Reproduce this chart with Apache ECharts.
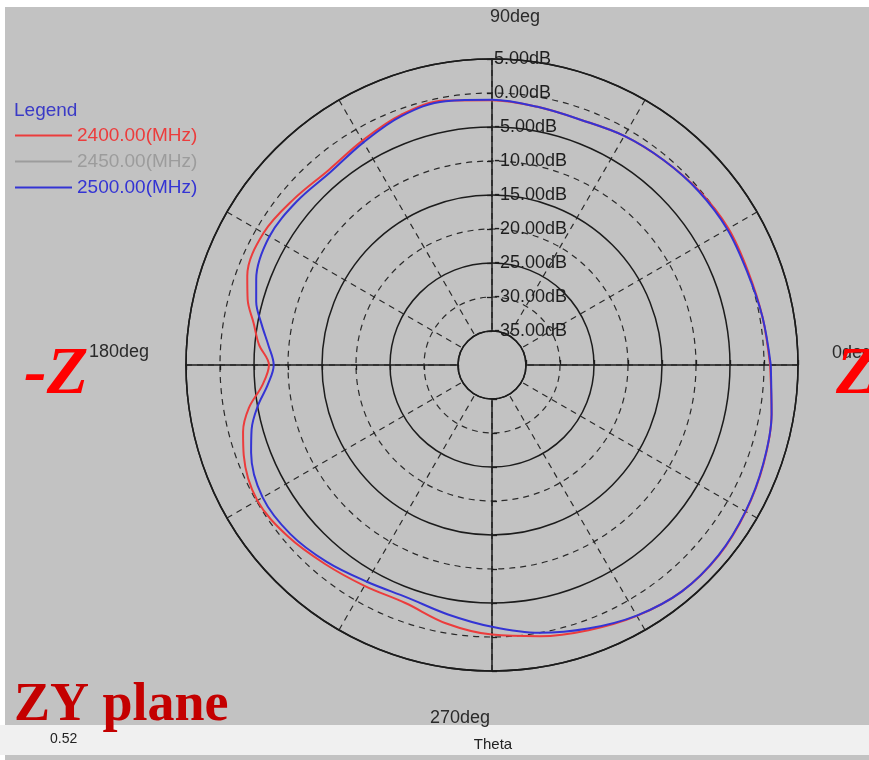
<!DOCTYPE html>
<html>
<head>
<meta charset="utf-8">
<script src="https://cdn.jsdelivr.net/npm/echarts@6/dist/echarts.min.js"></script>
<style>
  html, body { margin: 0; padding: 0; background: #ffffff; }
  #chart { width: 869px; height: 760px; }
</style>
</head>
<body>
<div id="chart"></div>
<script>
// Radiation pattern in the ZY plane, gain in dB versus theta (deg, counter-clockwise from +Z)
const thetaDeg = [0, 10, 20, 30, 40, 50, 60, 70, 80, 90, 100, 110, 120, 130, 140, 150, 160, 165, 170, 175,
                  180, 185, 190, 195, 200, 210, 220, 230, 240, 250, 260, 270, 280, 290, 300, 310, 320, 330, 340, 350, 360];

const gain2400 = [0.9, 0.4, 0.1, 0.15, -0.2, -0.7, -1.1, -1.65, -1.45, -1.05, -0.5, -0.85, -1.9, -2.6, -2.0, -1.2, -1.7, -2.8, -4.4, -5.6,
                  -7.2, -6.1, -3.7, -2.1, -1.15, -0.15, -0.8, -1.8, -2.5, -2.75, -1.4, -0.35, 0.5, 1.5, 2.6, 3.45, 3.55, 3.1, 2.5, 1.75, 0.9];

// 2450 MHz trace is listed in the legend but has no visible samples
const gain2450 = [];

const gain2500 = [1.0, 0.4, -0.05, -0.05, -0.3, -0.7, -1.1, -1.65, -1.45, -1.0, -0.6, -1.05, -2.2, -3.0, -2.55, -2.2, -3.1, -4.1, -5.6, -7.0,
                  -7.9, -6.9, -5.0, -3.4, -2.3, -1.05, -1.3, -2.2, -3.2, -3.6, -2.75, -1.5, 0.0, 1.25, 2.55, 3.45, 3.5, 3.05, 2.45, 1.75, 1.0];

const seriesNames = ['2400.00(MHz)', '2450.00(MHz)', '2500.00(MHz)'];
const seriesColors = ['#ec3c3c', '#9c9c9c', '#3434d4'];
const angleLabels = ['0deg', '90deg', '180deg', '270deg'];
const dbMin = -35, dbMax = 5, dbStep = 5;

// layout
const CX = 492, CY = 365, R_IN = 34, R_OUT = 306;
const pxPerDb = (R_OUT - R_IN) / (dbMax - dbMin);
const gridColor = '#1c1c1c';
const labelFont = 'Liberation Sans, Arial, sans-serif';
const serifFont = 'Liberation Serif, Times New Roman, serif';

const toPolar = (gains) => gains.map((g, i) => [g, thetaDeg[i]]);

const polars = [];
const angleAxes = [];
const radiusAxes = [];

function hiddenAngle(idx, start) {
  return {
    polarIndex: idx, type: 'value', min: 0, max: 360, startAngle: start, clockwise: false,
    axisLine: { show: false }, axisTick: { show: false }, axisLabel: { show: false }, splitLine: { show: false }
  };
}

// 0: data polar with dashed spokes every 30 deg and solid rings every 10 dB
polars.push({ center: [CX, CY], radius: [R_IN, R_OUT] });
angleAxes.push({
  polarIndex: 0, type: 'value', min: 0, max: 360, interval: 30, startAngle: 0, clockwise: false,
  axisLine: { show: true, lineStyle: { color: gridColor, width: 1.5 } },
  axisTick: { show: false }, axisLabel: { show: false },
  splitLine: { show: true, lineStyle: { color: '#2a2a2a', width: 1.2, type: [6, 5] } }
});
radiusAxes.push({
  polarIndex: 0, type: 'value', min: dbMin, max: dbMax, interval: 10,
  axisLine: { show: false }, axisTick: { show: false }, axisLabel: { show: false },
  splitLine: { show: true, lineStyle: { color: gridColor, width: 1.5 } }
});

// 1: dashed rings at -30, -20, -10, 0 dB
polars.push({ center: [CX, CY], radius: [R_IN + 5 * pxPerDb, R_IN + 35 * pxPerDb] });
angleAxes.push(hiddenAngle(1, 0));
radiusAxes.push({
  polarIndex: 1, type: 'value', min: -30, max: 0, interval: 10,
  axisLine: { show: false }, axisTick: { show: false }, axisLabel: { show: false },
  splitLine: { show: true, lineStyle: { color: '#2a2a2a', width: 1.2, type: [6, 5] } }
});

// 2..5: solid main axes at 0, 90, 180, 270 deg; the 90 deg one carries the dB labels
[0, 90, 180, 270].forEach((a, k) => {
  const idx = 2 + k;
  polars.push({ center: [CX, CY], radius: [R_IN, R_OUT] });
  angleAxes.push(hiddenAngle(idx, a));
  radiusAxes.push({
    polarIndex: idx, type: 'value', min: dbMin, max: dbMax, interval: dbStep,
    axisLine: { show: true, lineStyle: { color: gridColor, width: 1.5 } },
    axisTick: { show: true, length: 5, lineStyle: { color: gridColor, width: 1.3 } },
    axisLabel: {
      show: a === 90, margin: -2, align: 'left', verticalAlign: 'middle',
      color: '#1e1e1e', fontSize: 18, fontFamily: labelFont,
      formatter: (v) => v.toFixed(2) + 'dB'
    },
    splitLine: { show: false }
  });
});

const chart = echarts.init(document.getElementById('chart'), null, { renderer: 'canvas' });

const angleLabelPos = [
  { x: 832, y: 353, align: 'left' },
  { x: 490, y: 17, align: 'left' },
  { x: 89, y: 352, align: 'left' },
  { x: 490, y: 718, align: 'right' }
];

chart.setOption({
  backgroundColor: '#c2c2c2',
  animation: false,
  polar: polars,
  angleAxis: angleAxes,
  radiusAxis: radiusAxes,
  legend: {
    orient: 'vertical', left: 10, top: 121,
    icon: 'rect', itemWidth: 57, itemHeight: 2, itemGap: 7,
    textStyle: { fontSize: 19, fontFamily: labelFont, lineHeight: 18 },
    data: seriesNames.map((n, i) => ({ name: n, textStyle: { color: seriesColors[i] } }))
  },
  series: [
    { name: seriesNames[0], data: toPolar(gain2400) },
    { name: seriesNames[1], data: toPolar(gain2450) },
    { name: seriesNames[2], data: toPolar(gain2500) }
  ].map((s, i) => Object.assign(s, {
    type: 'line', coordinateSystem: 'polar', polarIndex: 0,
    showSymbol: false, smooth: 0.35, z: 5,
    lineStyle: { color: seriesColors[i], width: 2 },
    itemStyle: { color: seriesColors[i] }
  })),
  graphic: [
    // window frame strips
    { type: 'rect', shape: { x: 0, y: 0, width: 869, height: 7 }, style: { fill: '#ffffff' }, silent: true },
    { type: 'rect', shape: { x: 0, y: 0, width: 5, height: 760 }, style: { fill: '#ffffff' }, silent: true },
    { type: 'rect', shape: { x: 0, y: 725, width: 869, height: 30 }, style: { fill: '#f0f0f0' }, silent: true },
    { type: 'text', left: 14, top: 101, style: { text: 'Legend', fill: '#3a3ac6', font: '19px ' + labelFont } },
    ...angleLabels.map((t, i) => ({
      type: 'text', x: angleLabelPos[i].x, y: angleLabelPos[i].y,
      style: { text: t, fill: '#2a2a2a', font: '18px ' + labelFont, align: angleLabelPos[i].align, verticalAlign: 'middle' }
    })),
    { type: 'text', x: 50, y: 739, style: { text: '0.52', fill: '#222', font: '14px ' + labelFont, verticalAlign: 'middle' } },
    { type: 'text', x: 493, y: 745, style: { text: 'Theta', fill: '#222', font: '15px ' + labelFont, align: 'center', verticalAlign: 'middle' } },
    { type: 'text', x: 24, y: 375, z: 20, style: { text: '-Z', fill: '#ff0000', font: 'italic bold 68px ' + serifFont, verticalAlign: 'middle' } },
    { type: 'text', x: 836, y: 375, z: 20, style: { text: 'Z', fill: '#ff0000', font: 'italic bold 68px ' + serifFont, verticalAlign: 'middle' } },
    { type: 'text', x: 14, y: 706, z: 20, style: { text: 'ZY plane', fill: '#c40000', font: 'bold 54px ' + serifFont, verticalAlign: 'middle' } }
  ]
});
</script>
</body>
</html>
